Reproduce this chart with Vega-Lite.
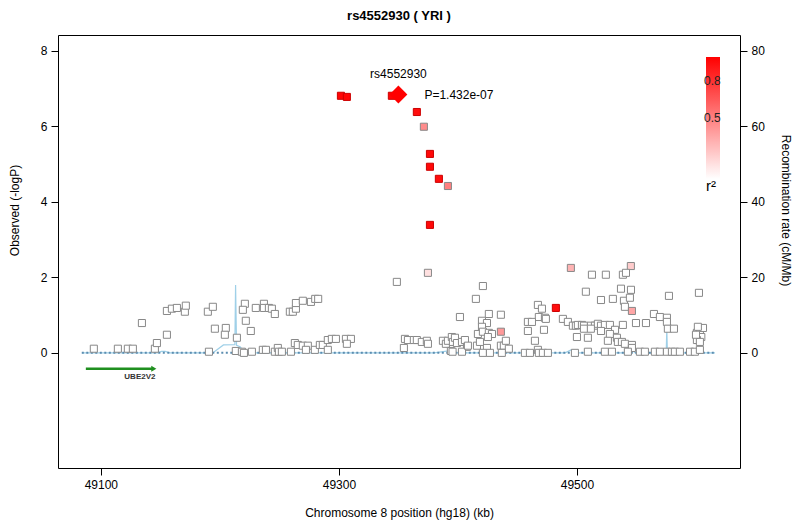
{
  "$schema": "https://vega.github.io/schema/vega-lite/v6.json",
  "width": 682,
  "height": 433,
  "autosize": {"type": "none"},
  "padding": {"left": 58, "top": 35, "right": 60, "bottom": 62},
  "background": "white",
  "title": {"text": "rs4552930 ( YRI )", "fontSize": 13, "fontWeight": "bold", "font": "Liberation Sans", "offset": 12, "anchor": "middle", "color": "black"},
  "config": {
    "font": "Liberation Sans",
    "view": {"stroke": "black", "strokeWidth": 1},
    "axis": {"domain": false, "grid": false, "tickColor": "black", "tickSize": 7, "labelColor": "black", "labelFontSize": 12, "labelFont": "Liberation Sans", "titleFont": "Liberation Sans", "titleFontSize": 12, "titleFontWeight": "normal", "titleColor": "black", "labelPadding": 4}
  },
  "datasets": {
    "snps": [
      {"pos": 49094.1, "y": 0.11, "r2": 0}, {"pos": 49114.3, "y": 0.11, "r2": 0}, {"pos": 49122.7, "y": 0.11, "r2": 0}, {"pos": 49126.9, "y": 0.11, "r2": 0},
      {"pos": 49134.5, "y": 0.79, "r2": 0}, {"pos": 49145.4, "y": 0.11, "r2": 0}, {"pos": 49147.1, "y": 0.26, "r2": 0}, {"pos": 49155.5, "y": 0.48, "r2": 0},
      {"pos": 49155.5, "y": 1.11, "r2": 0}, {"pos": 49159.7, "y": 1.17, "r2": 0}, {"pos": 49163.9, "y": 1.19, "r2": 0}, {"pos": 49170.6, "y": 1.09, "r2": 0},
      {"pos": 49171.4, "y": 1.25, "r2": 0}, {"pos": 49189.9, "y": 1.09, "r2": 0}, {"pos": 49194.1, "y": 1.22, "r2": 0}, {"pos": 49190.8, "y": 0.03, "r2": 0},
      {"pos": 49195.8, "y": 0.64, "r2": 0}, {"pos": 49205.0, "y": 0.66, "r2": 0}, {"pos": 49204.2, "y": 0.48, "r2": 0}, {"pos": 49214.3, "y": 0.40, "r2": 0},
      {"pos": 49213.4, "y": 0.05, "r2": 0}, {"pos": 49218.5, "y": 0.03, "r2": 0}, {"pos": 49220.2, "y": 0.0, "r2": 0}, {"pos": 49226.9, "y": 0.03, "r2": 0},
      {"pos": 49221.0, "y": 1.30, "r2": 0}, {"pos": 49219.3, "y": 1.14, "r2": 0}, {"pos": 49221.8, "y": 0.85, "r2": 0}, {"pos": 49226.0, "y": 0.58, "r2": 0},
      {"pos": 49230.2, "y": 1.19, "r2": 0}, {"pos": 49237.0, "y": 1.30, "r2": 0}, {"pos": 49237.0, "y": 1.19, "r2": 0}, {"pos": 49241.2, "y": 1.19, "r2": 0},
      {"pos": 49243.7, "y": 1.17, "r2": 0}, {"pos": 49246.2, "y": 1.03, "r2": 0}, {"pos": 49236.1, "y": 0.08, "r2": 0}, {"pos": 49238.7, "y": 0.08, "r2": 0},
      {"pos": 49246.2, "y": 0.03, "r2": 0}, {"pos": 49248.7, "y": 0.13, "r2": 0}, {"pos": 49249.6, "y": 0.03, "r2": 0}, {"pos": 49252.1, "y": 0.03, "r2": 0},
      {"pos": 49258.8, "y": 1.09, "r2": 0}, {"pos": 49261.3, "y": 1.09, "r2": 0}, {"pos": 49263.9, "y": 1.17, "r2": 0}, {"pos": 49263.9, "y": 1.32, "r2": 0},
      {"pos": 49269.7, "y": 1.38, "r2": 0}, {"pos": 49276.5, "y": 1.35, "r2": 0}, {"pos": 49280.1, "y": 1.43, "r2": 0}, {"pos": 49282.6, "y": 1.43, "r2": 0},
      {"pos": 49259.7, "y": 0.03, "r2": 0}, {"pos": 49263.0, "y": 0.26, "r2": 0}, {"pos": 49265.5, "y": 0.21, "r2": 0}, {"pos": 49269.7, "y": 0.19, "r2": 0},
      {"pos": 49273.9, "y": 0.19, "r2": 0}, {"pos": 49272.3, "y": 0.08, "r2": 0}, {"pos": 49279.8, "y": 0.08, "r2": 0}, {"pos": 49284.0, "y": 0.21, "r2": 0},
      {"pos": 49286.5, "y": 0.21, "r2": 0}, {"pos": 49290.7, "y": 0.34, "r2": 0}, {"pos": 49290.7, "y": 0.08, "r2": 0}, {"pos": 49294.1, "y": 0.37, "r2": 0},
      {"pos": 49297.5, "y": 0.37, "r2": 0}, {"pos": 49305.9, "y": 0.37, "r2": 0}, {"pos": 49310.1, "y": 0.37, "r2": 0}, {"pos": 49306.7, "y": 0.24, "r2": 0},
      {"pos": 49348.7, "y": 1.88, "r2": 0}, {"pos": 49374.8, "y": 2.12, "r2": 0.12}, {"pos": 49355.5, "y": 0.37, "r2": 0}, {"pos": 49358.0, "y": 0.34, "r2": 0},
      {"pos": 49363.0, "y": 0.34, "r2": 0}, {"pos": 49365.5, "y": 0.34, "r2": 0}, {"pos": 49354.6, "y": 0.13, "r2": 0}, {"pos": 49369.7, "y": 0.29, "r2": 0},
      {"pos": 49373.9, "y": 0.32, "r2": 0}, {"pos": 49374.8, "y": 0.24, "r2": 0}, {"pos": 49387.4, "y": 0.32, "r2": 0}, {"pos": 49389.9, "y": 0.24, "r2": 0},
      {"pos": 49391.6, "y": 0.32, "r2": 0}, {"pos": 49394.9, "y": 0.42, "r2": 0}, {"pos": 49395.8, "y": 0.29, "r2": 0}, {"pos": 49394.1, "y": 0.05, "r2": 0},
      {"pos": 49401.7, "y": 0.95, "r2": 0}, {"pos": 49415.1, "y": 1.43, "r2": 0}, {"pos": 49421.0, "y": 1.77, "r2": 0}, {"pos": 49426.0, "y": 1.03, "r2": 0},
      {"pos": 49436.1, "y": 1.01, "r2": 0}, {"pos": 49420.2, "y": 0.85, "r2": 0}, {"pos": 49424.4, "y": 0.79, "r2": 0}, {"pos": 49420.2, "y": 0.69, "r2": 0},
      {"pos": 49416.8, "y": 0.50, "r2": 0}, {"pos": 49421.0, "y": 0.56, "r2": 0}, {"pos": 49426.0, "y": 0.53, "r2": 0}, {"pos": 49428.6, "y": 0.50, "r2": 0},
      {"pos": 49425.2, "y": 0.42, "r2": 0}, {"pos": 49436.1, "y": 0.56, "r2": 0.4}, {"pos": 49397.5, "y": 0.40, "r2": 0}, {"pos": 49399.2, "y": 0.26, "r2": 0},
      {"pos": 49403.4, "y": 0.29, "r2": 0}, {"pos": 49405.9, "y": 0.34, "r2": 0}, {"pos": 49407.6, "y": 0.16, "r2": 0}, {"pos": 49416.0, "y": 0.19, "r2": 0},
      {"pos": 49424.4, "y": 0.13, "r2": 0}, {"pos": 49436.1, "y": 0.19, "r2": 0}, {"pos": 49438.6, "y": 0.19, "r2": 0}, {"pos": 49440.3, "y": 0.32, "r2": 0},
      {"pos": 49442.8, "y": 0.11, "r2": 0}, {"pos": 49395.5, "y": 0.03, "r2": 0}, {"pos": 49403.4, "y": 0.03, "r2": 0}, {"pos": 49421.0, "y": 0.0, "r2": 0},
      {"pos": 49426.9, "y": 0.0, "r2": 0}, {"pos": 49436.9, "y": 0.0, "r2": 0}, {"pos": 49456.3, "y": 0.0, "r2": 0}, {"pos": 49460.5, "y": 0.0, "r2": 0},
      {"pos": 49467.2, "y": 0.08, "r2": 0}, {"pos": 49468.0, "y": 0.0, "r2": 0}, {"pos": 49471.4, "y": 0.0, "r2": 0}, {"pos": 49475.6, "y": 0.0, "r2": 0},
      {"pos": 49498.3, "y": 0.0, "r2": 0}, {"pos": 49467.2, "y": 1.27, "r2": 0}, {"pos": 49470.6, "y": 1.17, "r2": 0}, {"pos": 49468.0, "y": 0.95, "r2": 0},
      {"pos": 49473.1, "y": 0.93, "r2": 0}, {"pos": 49473.9, "y": 0.90, "r2": 0}, {"pos": 49458.8, "y": 0.82, "r2": 0}, {"pos": 49462.2, "y": 0.82, "r2": 0},
      {"pos": 49458.8, "y": 0.58, "r2": 0}, {"pos": 49472.3, "y": 0.61, "r2": 0}, {"pos": 49464.7, "y": 0.32, "r2": 0}, {"pos": 49482.3, "y": 1.19, "r2": 0.95},
      {"pos": 49488.2, "y": 0.90, "r2": 0}, {"pos": 49492.4, "y": 0.82, "r2": 0}, {"pos": 49496.6, "y": 0.72, "r2": 0}, {"pos": 49499.1, "y": 0.72, "r2": 0},
      {"pos": 49500.8, "y": 0.74, "r2": 0}, {"pos": 49500.0, "y": 0.42, "r2": 0}, {"pos": 49494.9, "y": 2.25, "r2": 0.3}, {"pos": 49408.4, "y": 0.19, "r2": 0},
      {"pos": 49418.5, "y": 0.29, "r2": 0}, {"pos": 49545.3, "y": 2.30, "r2": 0.2}, {"pos": 49512.6, "y": 2.07, "r2": 0}, {"pos": 49524.3, "y": 2.07, "r2": 0},
      {"pos": 49538.6, "y": 2.07, "r2": 0}, {"pos": 49541.2, "y": 2.12, "r2": 0}, {"pos": 49507.5, "y": 1.62, "r2": 0}, {"pos": 49537.0, "y": 1.70, "r2": 0},
      {"pos": 49545.4, "y": 1.67, "r2": 0}, {"pos": 49520.2, "y": 1.40, "r2": 0}, {"pos": 49530.2, "y": 1.43, "r2": 0}, {"pos": 49539.5, "y": 1.38, "r2": 0},
      {"pos": 49544.5, "y": 1.46, "r2": 0}, {"pos": 49540.3, "y": 1.22, "r2": 0}, {"pos": 49546.2, "y": 1.11, "r2": 0.35}, {"pos": 49577.3, "y": 1.51, "r2": 0},
      {"pos": 49602.5, "y": 1.59, "r2": 0}, {"pos": 49564.7, "y": 1.03, "r2": 0}, {"pos": 49569.7, "y": 0.95, "r2": 0}, {"pos": 49575.6, "y": 0.93, "r2": 0},
      {"pos": 49575.6, "y": 0.82, "r2": 0}, {"pos": 49576.4, "y": 0.64, "r2": 0}, {"pos": 49581.5, "y": 0.64, "r2": 0}, {"pos": 49549.6, "y": 0.79, "r2": 0},
      {"pos": 49558.0, "y": 0.79, "r2": 0}, {"pos": 49538.6, "y": 0.74, "r2": 0}, {"pos": 49504.2, "y": 0.74, "r2": 0}, {"pos": 49505.9, "y": 0.72, "r2": 0},
      {"pos": 49511.7, "y": 0.72, "r2": 0}, {"pos": 49515.1, "y": 0.72, "r2": 0}, {"pos": 49517.6, "y": 0.77, "r2": 0}, {"pos": 49520.2, "y": 0.72, "r2": 0},
      {"pos": 49523.5, "y": 0.74, "r2": 0}, {"pos": 49527.7, "y": 0.74, "r2": 0}, {"pos": 49505.9, "y": 0.64, "r2": 0}, {"pos": 49511.7, "y": 0.64, "r2": 0},
      {"pos": 49520.2, "y": 0.58, "r2": 0}, {"pos": 49532.0, "y": 0.61, "r2": 0}, {"pos": 49527.7, "y": 0.50, "r2": 0}, {"pos": 49509.2, "y": 0.40, "r2": 0},
      {"pos": 49526.0, "y": 0.32, "r2": 0}, {"pos": 49533.6, "y": 0.40, "r2": 0}, {"pos": 49534.4, "y": 0.29, "r2": 0}, {"pos": 49537.8, "y": 0.29, "r2": 0},
      {"pos": 49540.3, "y": 0.24, "r2": 0}, {"pos": 49546.2, "y": 0.21, "r2": 0}, {"pos": 49546.2, "y": 0.13, "r2": 0}, {"pos": 49509.2, "y": 0.03, "r2": 0},
      {"pos": 49523.5, "y": 0.03, "r2": 0}, {"pos": 49529.4, "y": 0.03, "r2": 0}, {"pos": 49542.8, "y": 0.03, "r2": 0}, {"pos": 49552.9, "y": 0.03, "r2": 0},
      {"pos": 49557.1, "y": 0.03, "r2": 0}, {"pos": 49565.5, "y": 0.03, "r2": 0}, {"pos": 49569.7, "y": 0.03, "r2": 0}, {"pos": 49575.6, "y": 0.03, "r2": 0},
      {"pos": 49579.8, "y": 0.03, "r2": 0}, {"pos": 49582.3, "y": 0.03, "r2": 0}, {"pos": 49586.5, "y": 0.03, "r2": 0}, {"pos": 49595.0, "y": 0.03, "r2": 0},
      {"pos": 49599.1, "y": 0.03, "r2": 0}, {"pos": 49603.3, "y": 0.08, "r2": 0}, {"pos": 49600.8, "y": 0.53, "r2": 0}, {"pos": 49603.3, "y": 0.56, "r2": 0},
      {"pos": 49605.9, "y": 0.66, "r2": 0}, {"pos": 49601.6, "y": 0.69, "r2": 0}, {"pos": 49604.5, "y": 0.42, "r2": 0}, {"pos": 49600.8, "y": 0.34, "r2": 0},
      {"pos": 49603.3, "y": 0.29, "r2": 0}, {"pos": 49600.0, "y": 0.48, "r2": 0},
      {"pos": 49301.7, "y": 6.81, "r2": 0.98}, {"pos": 49306.7, "y": 6.78, "r2": 0.98}, {"pos": 49344.5, "y": 6.81, "r2": 0.98}, {"pos": 49365.5, "y": 6.38, "r2": 0.95},
      {"pos": 49371.4, "y": 5.99, "r2": 0.45}, {"pos": 49376.5, "y": 5.27, "r2": 0.97}, {"pos": 49376.5, "y": 4.93, "r2": 0.97}, {"pos": 49384.0, "y": 4.61, "r2": 0.95},
      {"pos": 49391.6, "y": 4.42, "r2": 0.5}, {"pos": 49376.5, "y": 3.39, "r2": 0.97}
    ],
    "lead": [{"pos": 49350.0, "y": 6.844, "snp": "rs4552930", "p": "P=1.432e-07"}],
    "recomb": [
      {"pos": 49084, "rate": 0}, {"pos": 49148, "rate": 0}, {"pos": 49151, "rate": 0.4}, {"pos": 49154, "rate": 0.4}, {"pos": 49158, "rate": 0},
      {"pos": 49194, "rate": 0}, {"pos": 49203, "rate": 2.1}, {"pos": 49212.6, "rate": 2.2}, {"pos": 49213.2, "rate": 18}, {"pos": 49214, "rate": 2.0},
      {"pos": 49217, "rate": 1.6}, {"pos": 49221, "rate": 0}, {"pos": 49380, "rate": 0}, {"pos": 49392, "rate": 0.5}, {"pos": 49400, "rate": 0},
      {"pos": 49490, "rate": 0}, {"pos": 49495, "rate": 0.8}, {"pos": 49500, "rate": 0}, {"pos": 49543, "rate": 0}, {"pos": 49546, "rate": 0.8},
      {"pos": 49549, "rate": 0}, {"pos": 49575, "rate": 0}, {"pos": 49575.5, "rate": 6.3}, {"pos": 49576, "rate": 0}, {"pos": 49616, "rate": 0}
    ],
    "baseline": [{"start": 49084, "end": 49616, "y": 0}],
    "gene": [{"start": 49087.4, "end": 49143.0, "tip": 49144.5, "y": -0.42, "labelpos": 49132.8, "labely": -0.64, "name": "UBE2V2"}]
  },
  "resolve": {"scale": {"y": "independent"}},
  "layer": [
    {
      "data": {"name": "recomb"},
      "mark": {"type": "line", "color": "#9fd0e8", "strokeWidth": 1.2, "clip": true},
      "encoding": {
        "x": {"field": "pos", "type": "quantitative", "scale": {"domain": [49064, 49637], "nice": false, "zero": false}},
        "y": {"field": "rate", "type": "quantitative", "scale": {"domain": [-30.5, 84.2], "nice": false, "zero": false},
              "axis": {"orient": "right", "values": [0, 20, 40, 60, 80], "title": "Recombination rate (cM/Mb)", "titleAngle": 90, "titleX": 45, "titleY": 175, "titleBaseline": "middle", "titleAlign": "center"}}
      }
    },
    {
      "layer": [
        {
          "data": {"name": "baseline"},
          "mark": {"type": "rule", "color": "#5b8db0", "strokeWidth": 2, "strokeDash": [2, 2.5]},
          "encoding": {
            "x": {"field": "start", "type": "quantitative", "scale": {"domain": [49064, 49637], "nice": false, "zero": false}},
            "x2": {"field": "end"},
            "y": {"field": "y", "type": "quantitative", "scale": {"domain": [-3.05, 8.42], "nice": false, "zero": false}}
          }
        },
        {
          "data": {"name": "gene"},
          "mark": {"type": "rule", "color": "#1f8f1f", "strokeWidth": 2.5},
          "encoding": {
            "x": {"field": "start", "type": "quantitative", "scale": {"domain": [49064, 49637], "nice": false, "zero": false}},
            "x2": {"field": "end"},
            "y": {"field": "y", "type": "quantitative", "scale": {"domain": [-3.05, 8.42], "nice": false, "zero": false}}
          }
        },
        {
          "data": {"name": "gene"},
          "mark": {"type": "point", "shape": "triangle-right", "filled": true, "color": "#1f8f1f", "size": 35, "opacity": 1},
          "encoding": {
            "x": {"field": "tip", "type": "quantitative", "scale": {"domain": [49064, 49637], "nice": false, "zero": false}},
            "y": {"field": "y", "type": "quantitative", "scale": {"domain": [-3.05, 8.42], "nice": false, "zero": false}}
          }
        },
        {
          "data": {"name": "gene"},
          "mark": {"type": "text", "fontSize": 8, "fontWeight": "bold", "color": "#333333", "align": "center", "baseline": "middle"},
          "encoding": {
            "x": {"field": "labelpos", "type": "quantitative", "scale": {"domain": [49064, 49637], "nice": false, "zero": false}},
            "y": {"field": "labely", "type": "quantitative", "scale": {"domain": [-3.05, 8.42], "nice": false, "zero": false}},
            "text": {"field": "name"}
          }
        },
        {
          "data": {"name": "snps"},
          "mark": {"type": "point", "shape": "square", "filled": true, "size": 50, "strokeWidth": 1, "opacity": 1},
          "encoding": {
            "x": {"field": "pos", "type": "quantitative", "scale": {"domain": [49064, 49637], "nice": false, "zero": false},
                  "axis": {"values": [49100, 49300, 49500], "title": "Chromosome 8 position (hg18) (kb)", "format": "d", "titleY": 44, "titleBaseline": "middle"}},
            "y": {"field": "y", "type": "quantitative", "scale": {"domain": [-3.05, 8.42], "nice": false, "zero": false},
                  "axis": {"orient": "left", "values": [0, 2, 4, 6, 8], "title": "Observed (-logP)", "titleX": -44, "titleY": 175, "titleBaseline": "middle", "titleAlign": "center", "titleAngle": -90}},
            "fill": {"field": "r2", "type": "quantitative", "scale": {"domain": [0, 1], "range": ["#ffffff", "#ff0000"], "interpolate": "rgb"},
                     "legend": {"orient": "none", "legendX": 648, "legendY": 22, "direction": "vertical", "gradientLength": 122, "gradientThickness": 14, "gradientStrokeWidth": 0, "title": "r²", "titleOrient": "bottom", "titleFontSize": 15, "titleFontWeight": "normal", "titleColor": "black", "titlePadding": 0, "labelFontSize": 12, "labelColor": "#222222", "values": [0.5, 0.8], "labelOffset": -16, "labelAlign": "left"}},
            "stroke": {"condition": {"test": "datum.r2 >= 0.6", "value": "#cc0000"}, "value": "#888888"}
          }
        },
        {
          "data": {"name": "lead"},
          "mark": {"type": "point", "shape": "diamond", "filled": true, "color": "#ff0000", "size": 320, "opacity": 1},
          "encoding": {
            "x": {"field": "pos", "type": "quantitative", "scale": {"domain": [49064, 49637], "nice": false, "zero": false}},
            "y": {"field": "y", "type": "quantitative", "scale": {"domain": [-3.05, 8.42], "nice": false, "zero": false}}
          }
        },
        {
          "data": {"name": "lead"},
          "mark": {"type": "text", "fontSize": 12, "color": "black", "align": "center", "baseline": "middle", "dy": -20},
          "encoding": {
            "x": {"field": "pos", "type": "quantitative", "scale": {"domain": [49064, 49637], "nice": false, "zero": false}},
            "y": {"field": "y", "type": "quantitative", "scale": {"domain": [-3.05, 8.42], "nice": false, "zero": false}},
            "text": {"field": "snp"}
          }
        },
        {
          "data": {"name": "lead"},
          "mark": {"type": "text", "fontSize": 12, "color": "black", "align": "left", "baseline": "middle", "dx": 26, "dy": 1},
          "encoding": {
            "x": {"field": "pos", "type": "quantitative", "scale": {"domain": [49064, 49637], "nice": false, "zero": false}},
            "y": {"field": "y", "type": "quantitative", "scale": {"domain": [-3.05, 8.42], "nice": false, "zero": false}},
            "text": {"field": "p"}
          }
        }
      ]
    }
  ]
}
